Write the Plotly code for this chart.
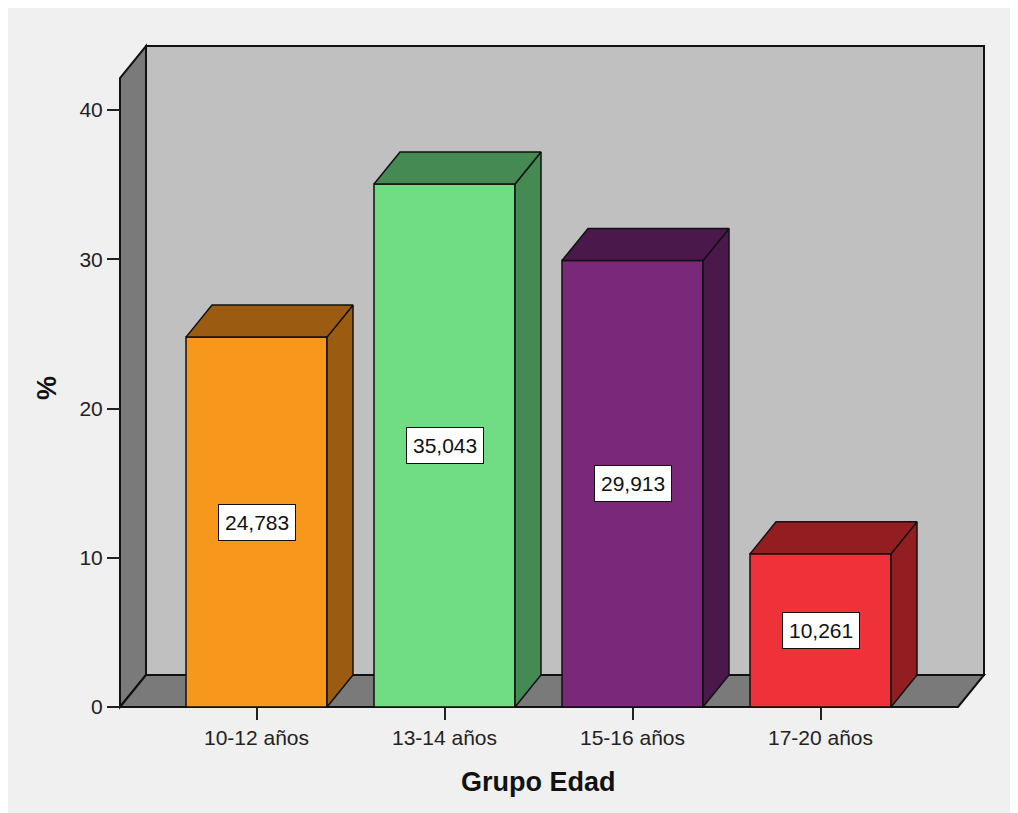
import plotly.graph_objects as go

# ---- data ----
categories = ["10-12 años", "13-14 años", "15-16 años", "17-20 años"]
values = [24.783, 35.043, 29.913, 10.261]
labels = ["24,783", "35,043", "29,913", "10,261"]
y_ticks = [0, 10, 20, 30, 40]

front_colors = ["#f7981d", "#70dd85", "#7a287a", "#ef3239"]
dark_colors = ["#9b5c11", "#458a53", "#4b184b", "#931e22"]

# ---- geometry / layout constants (pixels) ----
OFF = 8             # page body margin compensation
W_FIG, H_FIG = 1018, 813
ML, MR, MT, MB = 92, 20, 27, 100
PX_X = 188.0        # pixels per category
PX_Y = 14.925       # pixels per percent
X0_PX = 256.5 - OFF  # pixel of category 0 centre
Y0_PX = 707.0 - OFF  # pixel of value 0

plot_w = W_FIG - ML - MR
plot_h = H_FIG - MT - MB
x_range = [(ML - X0_PX) / PX_X, (W_FIG - MR - X0_PX) / PX_X]
y_range = [(Y0_PX - (H_FIG - MB)) / PX_Y, (Y0_PX - MT) / PX_Y]

BAR_W = 0.75
HW = BAR_W / 2
DX = 26 / PX_X      # depth offset in x units
DY = 32 / PX_Y      # depth offset in y units
FLOOR_L = (120 - OFF - X0_PX) / PX_X
FLOOR_R = (958 - OFF - X0_PX) / PX_X
WALL_TOP = (707 - 78) / PX_Y

EDGE = "#111111"
FONT = "Liberation Sans, Arial, sans-serif"

fig = go.Figure()

# front faces
fig.add_trace(go.Bar(
    x=list(range(len(categories))), y=values, width=BAR_W,
    marker=dict(color=front_colors, line=dict(color=EDGE, width=1.5)),
    hoverinfo="skip", showlegend=False,
))

# side and top faces
for i, v in enumerate(values):
    xs = [i + HW, i + HW + DX, i + HW + DX, i + HW, i + HW]
    ys = [0, DY, v + DY, v, 0]
    fig.add_trace(go.Scatter(x=xs, y=ys, mode="lines", fill="toself",
                             fillcolor=dark_colors[i],
                             line=dict(color=EDGE, width=1.5),
                             hoverinfo="skip", showlegend=False))
    xt = [i - HW, i - HW + DX, i + HW + DX, i + HW, i - HW]
    yt = [v, v + DY, v + DY, v, v]
    fig.add_trace(go.Scatter(x=xt, y=yt, mode="lines", fill="toself",
                             fillcolor=dark_colors[i],
                             line=dict(color=EDGE, width=1.5),
                             hoverinfo="skip", showlegend=False))

# walls and floor as background shapes
def path(pts):
    return "M " + " L ".join(f"{x},{y}" for x, y in pts) + " Z"

shapes = [
    # back wall
    dict(type="path", xref="x", yref="y", layer="below",
         path=path([(FLOOR_L + DX, DY), (FLOOR_L + DX, WALL_TOP + DY),
                    (FLOOR_R + DX, WALL_TOP + DY), (FLOOR_R + DX, DY)]),
         fillcolor="#c0c0c0", line=dict(color=EDGE, width=2)),
    # left wall
    dict(type="path", xref="x", yref="y", layer="below",
         path=path([(FLOOR_L, 0), (FLOOR_L, WALL_TOP),
                    (FLOOR_L + DX, WALL_TOP + DY), (FLOOR_L + DX, DY)]),
         fillcolor="#7a7a7a", line=dict(color=EDGE, width=2)),
    # floor
    dict(type="path", xref="x", yref="y", layer="below",
         path=path([(FLOOR_L, 0), (FLOOR_L + DX, DY),
                    (FLOOR_R + DX, DY), (FLOOR_R, 0)]),
         fillcolor="#7a7a7a", line=dict(color=EDGE, width=2)),
]

# value labels
annotations = []
for i, (v, t) in enumerate(zip(values, labels)):
    annotations.append(dict(x=i, y=v / 2, xref="x", yref="y", text=t,
                            showarrow=False, bgcolor="white",
                            bordercolor=EDGE, borderwidth=1, borderpad=6,
                            font=dict(family=FONT, size=21, color="#111111")))

# axis titles
annotations.append(dict(x=(538 - OFF - ML) / plot_w,
                        y=(H_FIG - MB - (782 - OFF)) / plot_h,
                        xref="paper", yref="paper", text="<b>Grupo Edad</b>",
                        xanchor="center", yanchor="middle",
                        showarrow=False,
                        font=dict(family=FONT, size=27, color="#111111")))
annotations.append(dict(x=(47 - OFF - ML) / plot_w,
                        y=(H_FIG - MB - (388 - OFF)) / plot_h,
                        xref="paper", yref="paper", text="<b>%</b>",
                        xanchor="center", yanchor="middle",
                        showarrow=False, textangle=-90,
                        font=dict(family=FONT, size=27, color="#111111")))

fig.update_layout(
    width=W_FIG, height=H_FIG,
    margin=dict(l=ML, r=MR, t=MT, b=MB),
    paper_bgcolor="#f0f0f0", plot_bgcolor="rgba(0,0,0,0)",
    shapes=shapes, annotations=annotations, showlegend=False,
    xaxis=dict(range=x_range, tickmode="array",
               tickvals=list(range(len(categories))), ticktext=categories,
               ticks="outside", ticklen=12, tickwidth=2, tickcolor="#222222",
               showgrid=False, zeroline=False, showline=False,
               anchor="free", position=(H_FIG - MB - Y0_PX) / plot_h,
               tickfont=dict(family=FONT, size=21, color="#222222")),
    yaxis=dict(range=y_range, tickmode="array", tickvals=y_ticks,
               ticks="outside", ticklen=13, tickwidth=2, tickcolor="#222222",
               showgrid=False, zeroline=False, showline=False,
               anchor="free", position=(120 - OFF - ML) / plot_w,
               tickfont=dict(family=FONT, size=21, color="#222222")),
)

fig.write_html("out.html")
